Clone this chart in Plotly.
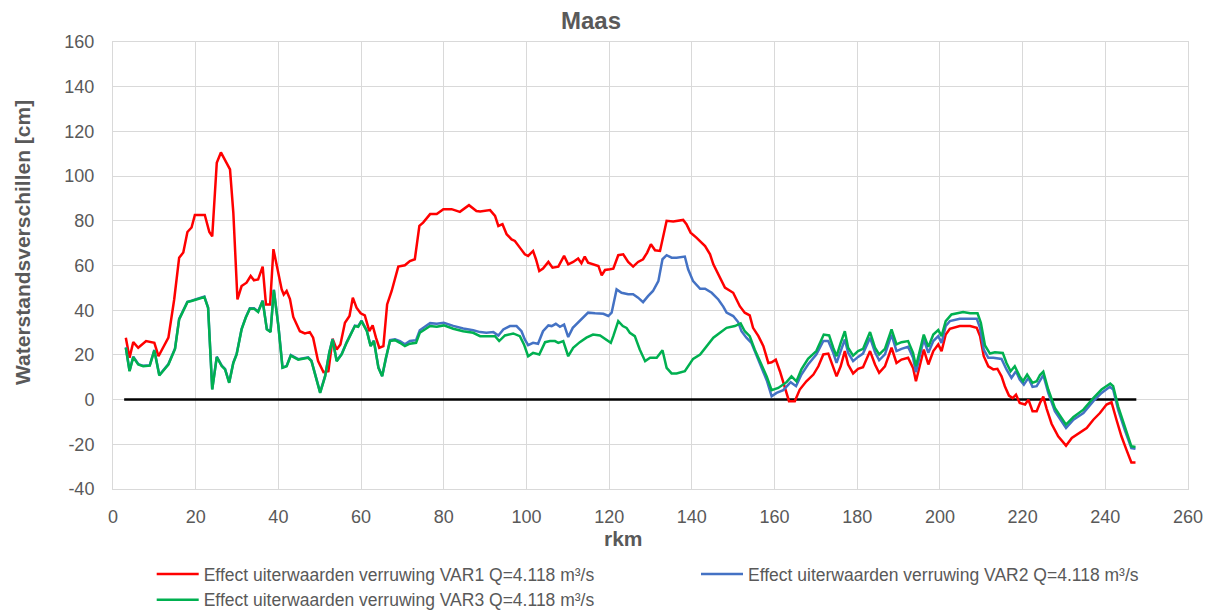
import plotly.graph_objects as go

# ---------------- data ----------------
rkm_var1 = [3.1, 4.0, 4.9, 6.1, 8.0, 10.0, 11.0, 13.4, 14.8, 16.0, 17.0, 18.0, 19.0, 19.8, 22.2,
            23.3, 24.0, 25.1, 26.1, 28.3, 29.1, 30.1, 31.1, 32.3, 33.3, 34.1, 35.1, 36.2, 37.0,
            38.0, 38.8, 39.8, 40.8, 41.3, 42.0, 42.8, 43.6, 45.2, 46.4, 47.6, 48.4, 49.6, 50.9,
            52.1, 53.1, 54.1, 55.0, 56.1, 57.2, 58.0, 58.9, 59.9, 60.9, 62.0, 62.8, 63.6, 64.4,
            65.4, 66.3, 67.4, 69.0, 70.6, 71.8, 73.0, 74.1, 75.0, 76.7, 78.3, 79.9, 81.9, 83.9,
            86.1, 87.9, 88.8, 91.2, 92.4, 93.2, 94.2, 95.2, 96.4, 97.2, 98.4, 99.6, 100.4, 101.6,
            102.3, 103.1, 104.0, 105.3, 106.3, 107.7, 109.1, 110.1, 111.3, 112.5, 113.3, 114.1,
            114.9, 116.6, 117.4, 118.2, 119.0, 120.2, 121.0, 122.2, 123.4, 124.6, 125.8, 127.0,
            128.2, 129.2, 130.1, 131.1, 132.3, 133.9, 135.5, 137.9, 138.7, 139.7, 141.1, 143.2,
            144.4, 145.2, 146.8, 148.0, 150.0, 151.6, 152.8, 154.0, 154.8, 156.1, 157.3, 158.5,
            159.3, 160.3, 161.3, 162.5, 163.5, 164.9, 166.1, 167.7, 169.4, 170.6, 171.8, 173.0,
            173.8, 175.0, 176.0, 177.0, 177.8, 179.0, 180.2, 181.4, 183.1, 184.3, 185.3, 186.7,
            188.3, 189.5, 190.7, 192.3, 193.5, 194.2, 195.2, 196.1, 197.2, 198.4, 199.6, 200.4,
            201.4, 202.4, 204.8, 207.3, 208.9, 209.7, 210.6, 211.7, 212.9, 213.9, 214.9, 215.7,
            216.7, 217.6, 218.4, 219.3, 220.6, 221.4, 222.4, 223.4, 224.2, 225.0, 225.8, 227.0,
            228.6, 230.5, 231.9, 233.9, 235.5, 237.1, 238.7, 240.3, 241.5, 242.7, 243.9, 245.1,
            246.3, 247.3]
var1 = [27.7, 18.7, 25.7, 23.2, 26.2, 25.4, 19.4, 27.7, 44.8, 63.5, 65.8, 75.0, 77.0, 82.6, 82.6,
        75.0, 73.0, 106.0, 110.6, 103.0, 83.7, 44.8, 50.8, 52.3, 55.3, 53.4, 53.8, 59.5, 42.6,
        42.6, 67.3, 57.5, 49.3, 47.0, 48.6, 45.0, 37.0, 30.6, 29.6, 30.2, 27.7, 17.2, 12.3,
        12.7, 27.2, 22.4, 24.7, 34.4, 37.4, 45.6, 41.1, 38.6, 37.7, 30.6, 33.2, 27.7, 23.2,
        23.9, 42.6, 48.6, 59.5, 60.1, 62.0, 62.8, 77.7, 79.2, 83.0, 83.0, 85.2, 85.2, 84.0,
        87.0, 84.4, 84.2, 84.8, 82.2, 77.7, 78.5, 74.0, 71.7, 71.0, 68.0, 65.0, 64.3, 66.5,
        62.8, 57.5, 58.6, 61.6, 59.0, 59.5, 64.3, 60.5, 61.6, 63.1, 61.0, 64.0,
        61.3, 60.1, 59.8, 55.6, 58.0, 58.3, 58.6, 64.6, 65.0, 61.6, 59.5, 61.6,
        62.8, 65.8, 69.5, 66.8, 66.5, 80.0, 79.7, 80.4, 78.5, 74.7, 72.5, 68.7,
        65.0, 60.5, 54.6, 50.1, 47.8, 41.8, 38.9, 37.7, 32.1, 28.4, 23.9, 16.4,
        16.7, 17.9, 12.7, 5.2, -0.7, -0.7, 4.5, 8.2, 11.2, 14.9, 20.2, 20.6,
        16.4, 10.4, 14.9, 21.7, 15.7, 11.7, 13.8, 14.5, 21.7, 15.7, 12.0, 14.9,
        23.2, 16.4, 17.9, 18.7, 14.2, 8.2, 15.7, 22.4, 15.7, 21.7, 24.7, 21.7,
        29.1, 31.7, 32.9, 32.9, 32.1, 28.4, 19.4, 14.9, 13.5, 13.8, 10.4, 6.0,
        1.8, 0.7, 2.2, -1.5, -2.2, 0.0, -5.2, -5.2, -1.5, 1.3, -4.0, -10.8,
        -16.4, -20.6, -17.2, -14.9, -12.7, -9.0, -6.0, -2.2, -1.2, -9.0, -16.4, -22.4,
        -28.1, -28.1]

rkm_var2 = [3.1, 4.0, 4.9, 6.1, 7.3, 8.9, 10.0, 11.2, 13.4, 15.0, 16.0, 18.0, 19.0, 20.2, 22.1,
            23.0, 24.0, 25.1, 26.3, 27.1, 28.1, 29.1, 29.9, 31.1, 32.1, 33.1, 34.1, 35.1, 36.2,
            37.2, 38.1, 38.9, 40.0, 41.0, 42.0, 43.0, 44.8, 47.2, 48.0, 50.1, 51.3, 52.3, 53.1,
            54.1, 55.3, 56.5, 57.7, 58.5, 59.3, 60.1, 61.4, 62.3, 63.1, 64.2, 65.1, 66.0,
            67.0, 68.2, 69.4, 70.6, 71.8, 73.3, 74.2, 75.5, 76.7, 78.3, 80.0, 82.3, 84.7, 87.1,
            88.8, 90.3, 92.0, 93.2, 94.4, 96.0, 97.6, 98.8, 99.6, 100.4, 101.6, 102.8, 104.0,
            105.3, 106.1, 107.1, 108.1, 109.1, 110.1, 111.2, 112.9, 114.9, 116.6, 118.6, 119.8,
            120.6, 121.8, 123.0, 124.6, 125.8, 127.0, 128.2, 129.4, 130.6, 131.9, 132.9, 133.9,
            135.1, 136.3, 138.3, 139.1, 140.3, 142.0, 143.2, 144.8, 146.4, 147.6, 148.4, 150.0,
            151.2, 152.0, 153.2, 154.4, 155.6, 157.1, 158.2, 159.3, 160.5, 162.1, 163.1, 163.9,
            165.2, 166.5, 168.1, 170.1, 171.8, 173.0, 174.2, 175.0, 176.0, 177.0, 177.8, 179.0,
            180.2, 181.4, 183.1, 184.3, 185.3, 186.7, 188.3, 189.5, 190.7, 192.3, 193.5, 194.2,
            195.2, 196.1, 197.2, 198.4, 199.6, 200.4, 201.4, 202.4, 204.8, 207.3, 208.9, 209.7,
            210.6, 211.7, 212.9, 214.9, 216.1, 217.3, 218.4, 219.3, 220.3, 221.4, 222.4, 223.4,
            224.2, 225.0, 226.2, 227.8, 230.5, 232.3, 234.7, 237.1, 239.1, 241.1, 241.9, 243.1,
            244.7, 246.3, 247.3]
var2 = [23.4, 12.9, 19.2, 15.9, 15.1, 15.4, 22.2, 11.0, 15.9, 22.9, 36.1, 43.8, 44.3, 45.0, 46.1,
        41.2, 4.7, 19.2, 15.2, 13.7, 7.7, 16.6, 20.4, 31.6, 36.8, 40.9, 40.9, 39.4, 44.3,
        31.6, 30.4, 49.2, 33.1, 14.4, 15.1, 19.9, 18.1, 18.9, 17.4, 3.2, 10.6, 21.1, 27.1,
        17.4, 20.4, 25.6, 30.4, 33.1, 32.8, 35.3, 30.8, 24.1, 26.4, 14.4, 10.6, 18.9,
        26.6, 27.0, 26.2, 24.7, 26.2, 26.6, 31.0, 32.7, 34.2, 33.9, 34.4, 33.0, 31.8, 31.0,
        30.2, 29.9, 30.2, 28.7, 31.4, 32.9, 32.9, 30.6, 26.9, 24.4, 25.4, 25.0, 30.6,
        33.2, 32.9, 33.9, 32.6, 33.6, 28.0, 32.1, 35.1, 38.9, 38.6, 38.4, 37.4,
        38.9, 49.3, 47.8, 47.1, 47.1, 45.6, 43.6, 46.3, 48.6, 53.0, 62.8, 64.6,
        63.5, 63.5, 64.0, 58.3, 53.0, 49.6, 49.6, 47.8, 44.8, 41.6, 38.9, 37.4,
        34.7, 30.6, 27.7, 25.4, 20.2, 13.5, 8.2, 1.5, 3.0, 4.2, 6.0, 7.8,
        6.0, 11.2, 15.7, 20.2, 26.2, 26.2, 20.9, 16.4, 21.7, 26.9, 20.9, 17.2,
        19.1, 20.6, 27.7, 21.2, 17.6, 20.2, 29.1, 21.7, 22.7, 23.6, 18.7, 12.3,
        20.2, 26.9, 20.9, 26.2, 28.4, 25.4, 32.9, 35.1, 36.2, 36.2, 36.2, 32.1,
        22.4, 18.7, 18.7, 18.2, 13.5, 9.7, 12.7, 9.0, 6.7, 9.7, 5.7, 6.0,
        8.8, 11.0, 3.0, -5.2, -12.7, -9.0, -6.0, -0.7, 3.0, 5.7, 4.5, -4.5,
        -13.5, -21.7, -22.0]

rkm_var3 = [3.1, 4.0, 4.9, 6.1, 7.3, 8.9, 10.0, 11.2, 13.4, 15.0, 16.0, 18.0, 19.0, 20.2, 22.1,
            23.0, 24.0, 25.1, 26.3, 27.1, 28.1, 29.1, 29.9, 31.1, 32.1, 33.1, 34.1, 35.1, 36.2,
            37.2, 38.1, 38.9, 40.0, 41.0, 42.0, 43.0, 44.8, 47.2, 48.0, 50.1, 51.3, 52.3, 53.1,
            54.1, 55.3, 56.5, 57.7, 58.5, 59.3, 60.1, 61.4, 62.3, 63.1, 64.2, 65.1, 66.0,
            67.0, 68.2, 69.4, 70.6, 71.8, 73.3, 74.2, 75.5, 76.7, 78.3, 80.0, 82.3, 84.7, 87.1,
            88.8, 90.3, 92.4, 93.4, 94.8, 96.8, 98.4, 99.4, 100.4, 101.6, 103.1, 104.5, 105.7,
            106.9, 107.7, 108.9, 110.1, 111.3, 112.9, 114.5, 116.1, 117.8, 119.0, 120.4, 121.0,
            122.2, 123.3, 124.2, 125.0, 126.2, 127.4, 128.7, 129.9, 131.5, 132.9, 133.9, 135.1,
            136.3, 138.3, 140.3, 142.0, 143.6, 145.2, 146.8, 148.4, 150.4, 151.8, 152.8, 154.0,
            155.2, 156.8, 158.1, 159.3, 160.9, 162.9, 164.1, 165.3, 166.5, 168.1, 170.1, 171.9,
            173.2, 174.2, 175.0, 176.0, 177.0, 177.8, 179.0, 180.2, 181.4, 183.1, 184.3, 185.3,
            186.7, 188.3, 189.5, 190.7, 192.3, 193.5, 194.2, 195.2, 196.1, 197.2, 198.4, 199.6,
            200.4, 201.4, 202.8, 205.6, 207.3, 209.1, 209.9, 210.9, 212.1, 213.3, 215.2, 216.1,
            217.1, 218.1, 219.3, 220.1, 221.1, 222.4, 223.4, 224.2, 225.0, 226.2, 227.8, 230.5,
            232.3, 234.7, 237.1, 239.1, 241.2, 241.9, 243.1, 244.7, 246.3, 247.3]
var3 = [23.2, 12.7, 19.0, 15.7, 14.9, 15.2, 22.0, 10.8, 15.7, 22.7, 35.9, 43.6, 44.1, 44.8, 45.9,
        41.0, 4.5, 19.0, 15.0, 13.5, 7.5, 16.4, 20.2, 31.4, 36.6, 40.7, 40.7, 39.2, 44.1,
        31.4, 30.2, 49.0, 32.9, 14.2, 14.9, 19.7, 17.9, 18.7, 17.2, 3.0, 10.4, 20.9, 26.9,
        17.2, 20.2, 25.4, 30.2, 32.9, 32.6, 35.1, 30.6, 23.9, 26.2, 14.2, 10.4, 18.7,
        26.2, 26.6, 25.4, 23.9, 25.0, 25.4, 29.9, 31.4, 32.9, 32.6, 33.2, 31.7, 30.6, 29.9,
        28.4, 28.4, 28.4, 26.2, 28.7, 29.6, 28.4, 24.7, 19.4, 20.9, 20.2, 25.7, 26.2,
        26.2, 25.4, 26.2, 19.4, 23.2, 25.7, 27.7, 29.1, 28.7, 27.2, 25.4, 28.4,
        35.1, 32.9, 32.1, 29.9, 28.4, 22.4, 17.2, 18.7, 18.7, 22.1, 14.2, 11.7,
        11.7, 12.7, 18.2, 20.2, 23.9, 27.7, 29.9, 32.1, 32.9, 34.1, 30.6, 28.4,
        22.4, 15.7, 10.4, 4.2, 5.2, 7.8, 10.4, 8.2, 13.5, 18.2, 21.7, 29.1,
        28.7, 23.2, 19.4, 25.4, 30.6, 23.2, 19.7, 21.7, 22.7, 30.2, 23.2, 20.2,
        22.7, 31.4, 24.7, 25.7, 26.2, 20.9, 14.9, 22.4, 29.1, 23.6, 29.1, 31.1,
        28.4, 35.1, 38.1, 39.2, 38.6, 38.6, 34.4, 24.2, 20.6, 21.2, 20.9, 16.4,
        12.7, 14.9, 10.4, 8.2, 11.2, 7.5, 8.2, 11.0, 12.5, 4.5, -3.7, -11.2,
        -7.8, -4.5, 0.7, 4.5, 7.2, 6.0, -3.0, -12.0, -20.9, -21.2]

baseline_rkm = [2.7, 247.5]
baseline_val = [0, 0]

y_tick_vals = [-40, -20, 0, 20, 40, 60, 80, 100, 120, 140, 160]
y_tick_text = ["-40", "-20", "0", "20", "40", "60", "80", "100", "120", "140", "160"]
x_tick_vals = [0, 20, 40, 60, 80, 100, 120, 140, 160, 180, 200, 220, 240, 260]
x_tick_text = ["0", "20", "40", "60", "80", "100", "120", "140", "160", "180", "200",
               "220", "240", "260"]

names = ["Effect uiterwaarden verruwing VAR1 Q=4.118 m³/s",
         "Effect uiterwaarden verruwing VAR2 Q=4.118 m³/s",
         "Effect uiterwaarden verruwing VAR3 Q=4.118 m³/s"]
colors = ["#FF0000", "#4472C4", "#00B050"]
legend_ids = ["legend", "legend2", "legend"]

FONT = "Liberation Sans, Arial, sans-serif"
GREY = "#595959"
GRID = "#D9D9D9"

fig = go.Figure()
fig.add_trace(go.Scatter(x=baseline_rkm, y=baseline_val, mode="lines",
                         line=dict(color="black", width=2.5), showlegend=False,
                         hoverinfo="skip"))
for xs, ys, nm, c, lg in [(rkm_var1, var1, names[0], colors[0], legend_ids[0]),
                          (rkm_var2, var2, names[1], colors[1], legend_ids[1]),
                          (rkm_var3, var3, names[2], colors[2], legend_ids[2])]:
    fig.add_trace(go.Scatter(x=xs, y=ys, mode="lines", name=nm, legend=lg,
                             line=dict(color=c, width=2.5)))

# page is rendered with an 8px body margin -> shift all pixel positions by -8
OFF = 8
W, H = 1215, 614
P_LEFT, P_RIGHT, P_TOP, P_BOT = 113 - OFF, 1188 - OFF, 42 - OFF, 489 - OFF
ml, mr, mt, mb = P_LEFT, W - P_RIGHT, P_TOP, H - P_BOT
gw = P_RIGHT - P_LEFT
gh = P_BOT - P_TOP


def px_x(p):
    return (p - OFF - P_LEFT) / gw


def px_y(p):
    return (P_BOT - (p - OFF)) / gh


leg_font = dict(family=FONT, size=17.5, color=GREY)
fig.update_layout(
    width=W, height=H,
    margin=dict(l=ml, r=mr, t=mt, b=mb, autoexpand=False),
    paper_bgcolor="white", plot_bgcolor="white",
    font=dict(family=FONT, color=GREY, size=18),
    title=dict(text="<b>Maas</b>", x=(591 - OFF) / W, xref="container", xanchor="center",
               y=1 - (21 - OFF) / H, yref="container", yanchor="middle",
               font=dict(family=FONT, size=24, color=GREY)),
    xaxis=dict(range=[0, 260], tickmode="array", tickvals=x_tick_vals, ticktext=x_tick_text,
               showgrid=True, gridcolor=GRID, gridwidth=1, zeroline=False,
               showline=True, linecolor=GRID, linewidth=1, mirror=True,
               ticks="", ticklabelstandoff=11,
               tickfont=dict(family=FONT, size=18, color=GREY)),
    yaxis=dict(range=[-40, 160], tickmode="array", tickvals=y_tick_vals, ticktext=y_tick_text,
               showgrid=True, gridcolor=GRID, gridwidth=1, zeroline=False,
               showline=True, linecolor=GRID, linewidth=1, mirror=True,
               ticks="", ticklabelstandoff=14,
               tickfont=dict(family=FONT, size=18, color=GREY)),
    legend=dict(orientation="v", x=px_x(151.7), xanchor="left",
                y=px_y(556), yanchor="top", itemwidth=42,
                font=leg_font, bgcolor="rgba(0,0,0,0)", traceorder="normal"),
    legend2=dict(orientation="v", x=px_x(696), xanchor="left",
                 y=px_y(556), yanchor="top", itemwidth=42,
                 font=leg_font, bgcolor="rgba(0,0,0,0)", traceorder="normal"),
    showlegend=True,
)

fig.add_annotation(text="<b>Waterstandsverschillen [cm]</b>", textangle=-90,
                   xref="paper", yref="paper", x=px_x(22), y=px_y(243),
                   xanchor="center", yanchor="middle", showarrow=False,
                   font=dict(family=FONT, size=21, color=GREY))
fig.add_annotation(text="<b>rkm</b>", xref="paper", yref="paper",
                   x=px_x(623.7), y=px_y(538),
                   xanchor="center", yanchor="middle", showarrow=False,
                   font=dict(family=FONT, size=21, color=GREY))

fig.write_html("out.html")
